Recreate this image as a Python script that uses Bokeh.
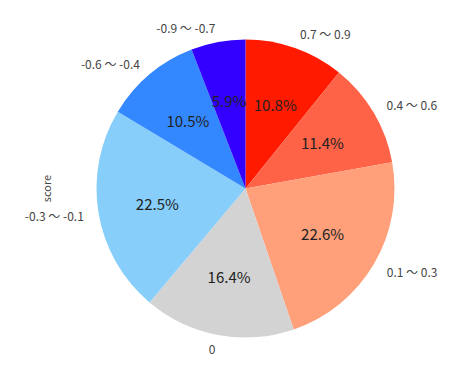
import math
from bokeh.plotting import figure
from bokeh.models import Range1d, ColumnDataSource, Label
from bokeh.core.properties import value
from bokeh.embed import file_html
from bokeh.resources import INLINE

categories = ["0.7 〜 0.9", "0.4 〜 0.6", "0.1 〜 0.3", "0", "-0.3 〜 -0.1", "-0.6 〜 -0.4", "-0.9 〜 -0.7"]
percents = [10.8, 11.4, 22.6, 16.4, 22.5, 10.5, 5.9]
colors = ["#ff1a00", "#ff6347", "#ffa07a", "#d3d3d3", "#87cefa", "#3388ff", "#3300ff"]
ylabel = "score"

W, H = 464, 365
R = 149.0
cx, cy = 245.0, 188.0
FONT = "Noto Sans CJK JP"

p = figure(width=W, height=H, output_backend="svg", toolbar_location=None,
           x_range=Range1d(-cx / R, (W - cx) / R), y_range=Range1d(-(H - cy) / R, cy / R),
           min_border=0, outline_line_color=None)
p.axis.visible = False
p.grid.visible = False
p.background_fill_color = "white"
p.border_fill_color = "white"

total = sum(percents)
starts, ends, mids = [], [], []
acc = 0.0
for v in percents:
    a0 = math.pi / 2 - 2 * math.pi * acc / total
    acc += v
    a1 = math.pi / 2 - 2 * math.pi * acc / total
    starts.append(a0)
    ends.append(a1)
    mids.append((a0 + a1) / 2)

src = ColumnDataSource(dict(start=starts, end=ends, color=colors))
p.wedge(x=0, y=0, radius=1, start_angle="start", end_angle="end", direction="clock",
        fill_color="color", line_color=None, source=src)

# percentage labels
pct_src = ColumnDataSource(dict(
    x=[0.6 * math.cos(m) for m in mids],
    y=[0.6 * math.sin(m) for m in mids],
    t=["%.1f%%" % v for v in percents]))
p.text(x="x", y="y", text="t", source=pct_src, text_align="center", text_baseline="middle",
       text_font=value(FONT), text_font_size="15px", text_color="#222222")

# category labels
lx = [1.1 * math.cos(m) for m in mids]
ly = [1.1 * math.sin(m) for m in mids]
for x, y, t in zip(lx, ly, categories):
    p.add_layout(Label(x=x, y=y, text=t, text_align="left" if x > 0 else "right",
                       text_baseline="middle", text_font=FONT, text_font_size="12px",
                       text_color="#444444"))

p.add_layout(Label(x=-200 / R, y=(cy - 188) / R, text=ylabel, angle=math.pi / 2,
                   text_align="center", text_baseline="middle", text_font=FONT,
                   text_font_size="11px", text_color="#444444"))

open("out.html", "w").write(file_html(p, INLINE))
